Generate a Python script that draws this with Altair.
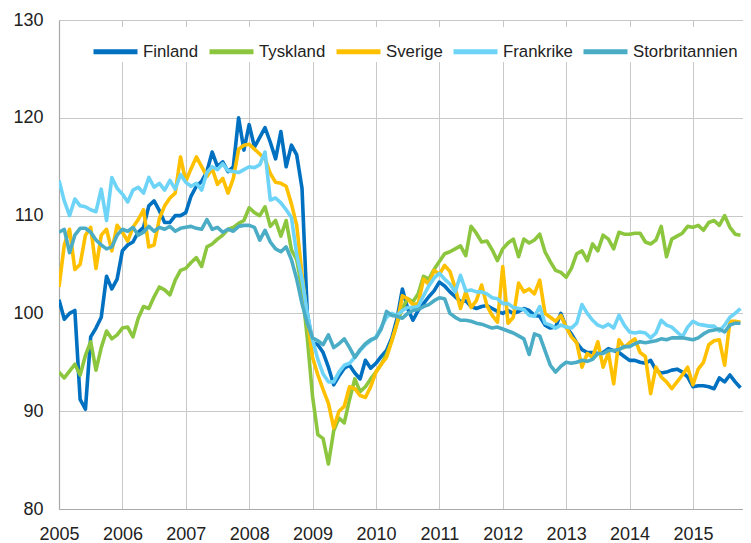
import altair as alt
import pandas as pd

countries = ["Finland", "Tyskland", "Sverige", "Frankrike", "Storbritannien"]
colors = ["#0070C0", "#8CC63F", "#FFC000", "#6DD3F7", "#4BACC6"]

# Monthly values, Jan 2005 .. Oct 2015
finland = [
    101.4, 99.4, 100.0, 100.3, 91.2, 90.2, 97.6, 98.5, 99.6, 103.8, 102.5, 103.5,
    106.4, 107.0, 107.3, 108.3, 108.8, 111.0, 111.5, 110.5, 109.3, 109.3, 110.0, 110.0,
    110.3, 112.0, 113.0, 113.5, 114.5, 116.5, 115.0, 115.5, 114.5, 115.0, 120.0, 116.7,
    119.3, 117.0, 118.0, 119.0, 117.5, 115.8, 118.6, 115.0, 117.2, 116.2, 112.8, 100.0,
    97.0, 96.8, 96.0, 94.5, 92.7, 93.6, 94.4, 94.7, 93.9, 93.3, 95.2, 94.4,
    94.9, 95.6, 96.2, 97.5, 99.5, 102.5, 100.5, 99.3, 100.3, 101.0, 101.7, 102.3,
    103.2, 102.8, 102.2, 101.7, 101.2, 101.3, 100.7, 100.5, 100.7, 100.8, 100.5, 100.2,
    100.0, 100.3, 100.0, 100.2, 100.5, 100.3, 99.8, 99.7, 98.8, 98.5, 98.6, 100.0,
    98.6, 97.9, 97.0, 96.3, 96.0, 96.0, 95.9, 96.0, 96.4, 96.2, 96.0, 95.6,
    95.2, 95.2, 95.0, 94.9, 95.2, 94.2, 93.9, 94.0, 94.2, 94.3, 94.0, 93.5,
    92.5, 92.6, 92.6, 92.5, 92.3, 93.4, 93.0, 93.7, 93.0, 92.4,
]
tyskland = [
    94.0, 93.4, 94.1, 94.8, 93.7, 95.7, 97.1, 94.2, 96.5, 98.2, 97.4, 97.8,
    98.5, 98.6, 97.6, 99.5, 100.7, 100.5, 101.7, 102.7, 102.4, 101.9, 103.4, 104.4,
    104.6, 105.2, 105.7, 104.8, 106.8, 107.1, 107.6, 108.0, 108.6, 108.8, 109.2, 109.5,
    110.8, 110.3, 110.0, 110.9, 108.9, 109.5, 107.9, 109.5, 106.5, 105.5, 102.5, 97.5,
    91.5, 87.6, 87.2, 84.6, 88.0, 89.3, 88.8, 91.2, 93.3, 92.0, 92.5, 93.3,
    94.0, 94.8, 95.8, 97.2, 99.0, 100.5, 101.5, 101.2, 102.0, 103.8, 103.5, 104.5,
    105.3, 106.1, 106.3, 106.6, 106.9, 105.9, 108.9, 108.2, 107.3, 107.4, 106.5, 105.4,
    106.6, 107.2, 107.6, 105.8, 107.6, 107.2, 107.5, 108.1, 106.3, 105.3, 104.4, 104.2,
    103.7, 104.6, 106.1, 106.4, 105.4, 107.1, 106.4, 108.0, 107.6, 106.6, 108.3, 108.1,
    108.1, 108.2, 108.2, 107.3, 107.1, 107.5, 108.9, 105.8, 107.6, 107.9, 108.2, 108.9,
    108.8, 109.0, 108.5, 109.3, 109.5, 109.0, 110.0, 108.8, 108.1, 108.0,
]
sverige = [
    102.7, 107.0, 108.6, 104.5, 105.0, 108.0, 108.8, 104.6, 108.0, 108.6, 106.4, 109.0,
    108.3, 107.4, 108.8, 109.6, 110.6, 106.8, 107.0, 109.7, 111.0, 111.8, 112.3, 116.0,
    113.5, 114.8, 116.0, 115.0, 114.0, 114.8, 113.2, 113.8, 112.3, 113.8, 116.8, 117.2,
    117.3, 116.8, 116.3, 115.8, 114.3, 113.4, 113.3, 113.0, 111.2, 109.0, 104.0, 99.5,
    95.5, 93.7, 92.2, 90.8, 88.3, 90.0, 90.5, 92.5, 92.3, 91.6, 91.4, 92.5,
    94.0, 94.8, 95.5, 97.2, 99.0, 101.8, 101.5, 100.9, 101.0, 103.5, 103.0, 104.4,
    104.0, 104.9, 104.3, 102.6, 100.5, 102.2, 100.6, 101.3, 102.9, 100.8, 99.8, 99.1,
    104.8, 99.0, 99.6, 103.1, 102.2, 102.5, 102.0, 103.4, 100.0, 99.6, 99.2, 99.8,
    98.6, 97.6, 97.0, 94.5, 95.9, 95.5, 97.1, 94.5, 96.0, 92.8, 97.3, 96.5,
    97.0, 97.4, 96.0, 95.6, 91.8, 94.5, 93.5, 93.0, 92.3, 93.0, 93.7, 94.5,
    92.7, 94.3, 95.0, 96.8, 97.2, 97.3, 94.7, 99.2, 99.2, 99.1,
]
frankrike = [
    113.6, 111.5, 110.0, 111.7, 111.0, 110.9, 110.6, 110.4, 112.7, 109.5, 113.9, 112.8,
    112.2, 111.4, 112.6, 112.9, 112.3, 113.9, 112.9, 113.3, 112.6, 113.6, 112.7, 114.2,
    113.4, 113.0, 113.3, 112.6, 114.4, 115.0, 114.7, 115.3, 114.6, 114.5, 114.4, 114.7,
    115.0, 114.9, 115.2, 116.5, 111.6, 111.8, 111.3, 110.6, 109.8, 106.0, 103.5, 100.0,
    97.3, 95.3, 93.8, 93.0, 93.0, 94.0, 94.7, 94.9, 95.5, 96.2, 96.8, 97.2,
    97.6, 98.6, 99.6, 100.0, 99.8, 100.3, 100.6, 100.6, 100.7, 101.8, 102.8, 103.6,
    104.1, 103.5, 103.0, 102.2, 103.9, 102.3, 102.4, 102.2, 102.2, 102.0, 101.6, 101.5,
    101.0, 101.0, 100.6, 100.5, 100.4, 99.8, 99.7, 100.7, 99.0, 98.8, 98.5, 98.8,
    98.6, 98.5, 99.0, 100.9, 100.0, 99.3, 98.8, 98.6, 98.9, 98.5, 99.8, 98.8,
    98.1, 98.0, 98.1, 98.0, 97.5, 98.0, 99.3, 98.8, 98.6, 98.1, 97.6, 98.6,
    99.2, 98.9, 98.8, 98.7, 98.7, 98.2, 98.8, 99.6, 100.0, 100.5,
]
storbritannien = [
    108.3, 108.6, 106.2, 108.0, 108.7, 108.7, 108.3, 107.5, 107.0, 106.6, 106.8, 108.0,
    108.6, 108.4, 108.8, 108.0, 108.3, 108.9, 108.4, 108.8, 108.6, 108.9, 108.4, 108.7,
    108.8, 108.9, 108.7, 108.6, 109.6, 108.6, 108.8, 108.3, 108.6, 108.4, 108.9, 109.0,
    109.0, 108.8, 107.5, 108.5, 107.3, 106.6, 106.3, 106.8, 105.5, 103.5, 101.0, 99.0,
    97.5, 97.2, 96.8, 97.8, 96.5, 96.9, 97.4, 96.5, 95.5, 96.3, 96.9, 97.3,
    97.5, 98.4, 100.2, 99.8, 99.7, 99.5, 100.0, 100.3, 100.4, 100.7, 100.9, 101.3,
    101.6, 101.5, 100.0, 99.6, 99.3, 99.3, 99.2, 99.0, 98.9, 98.7, 98.5, 98.6,
    98.4, 98.2, 98.0, 97.7, 97.4, 95.8, 97.9, 97.7, 96.2, 94.7, 94.0, 94.6,
    95.0, 94.9, 95.0, 95.2, 95.1, 95.3, 95.9, 95.9, 96.2, 96.2, 96.3, 96.6,
    96.6, 96.9, 97.1, 97.0, 97.1, 97.2, 97.4, 97.3, 97.5, 97.5, 97.5, 97.4,
    97.3, 97.5, 97.9, 98.2, 98.3, 98.4, 98.1, 98.8, 99.0, 99.0,
]

year_ticks = list(range(2005, 2016))
y_ticks = [80, 90, 100, 110, 120, 130]

series = [finland, tyskland, sverige, frankrike, storbritannien]
rows = []
for k, (name, vals) in enumerate(zip(countries, series)):
    for i, v in enumerate(vals):
        rows.append({"t": 2005 + i / 12.0, "value": v, "country": name, "k": k})
df = pd.DataFrame(rows)

FONT = "Liberation Sans"

chart = alt.Chart(df).mark_line(strokeWidth=3.6, strokeJoin="round", clip=True).encode(
    x=alt.X("t:Q",
            scale=alt.Scale(domain=[2005, 2015.79], nice=False, zero=False),
            axis=alt.Axis(values=year_ticks, format="d", title=None, ticks=False,
                          labelFlush=False, labelOverlap=False, labelPadding=16,
                          grid=True)),
    y=alt.Y("value:Q",
            scale=alt.Scale(domain=[80, 130], nice=False, zero=False),
            axis=alt.Axis(values=y_ticks, title=None, ticks=False, labelFlush=False,
                          labelPadding=16, grid=True)),
    color=alt.Color("country:N",
                    scale=alt.Scale(domain=countries, range=colors),
                    legend=alt.Legend(orient="none", legendX=32, legendY=7,
                                      direction="horizontal", columns=5, title=None,
                                      symbolType="stroke", symbolStrokeWidth=5,
                                      symbolSize=1936, labelFontSize=16.8,
                                      labelFont=FONT, labelColor="#222222",
                                      labelOffset=3, columnPadding=0,
                                      labelLimit=200,
                                      fillColor="white", padding=0)),
    detail="k:O",
    order="k:Q",
).properties(
    width=684, height=489,
    autosize=alt.AutoSizeParams(type="none"),
    padding={"left": 51, "top": 12, "right": 0, "bottom": 36},
).configure_view(
    stroke=None
).configure_axis(
    labelFont=FONT, labelFontSize=18, labelColor="#222222",
    gridColor="#c8c8c8", gridWidth=1, domainColor="#a8a8a8", domainWidth=1.2,
)

chart.save("out.html", embed_options={"renderer": "svg", "actions": False})
